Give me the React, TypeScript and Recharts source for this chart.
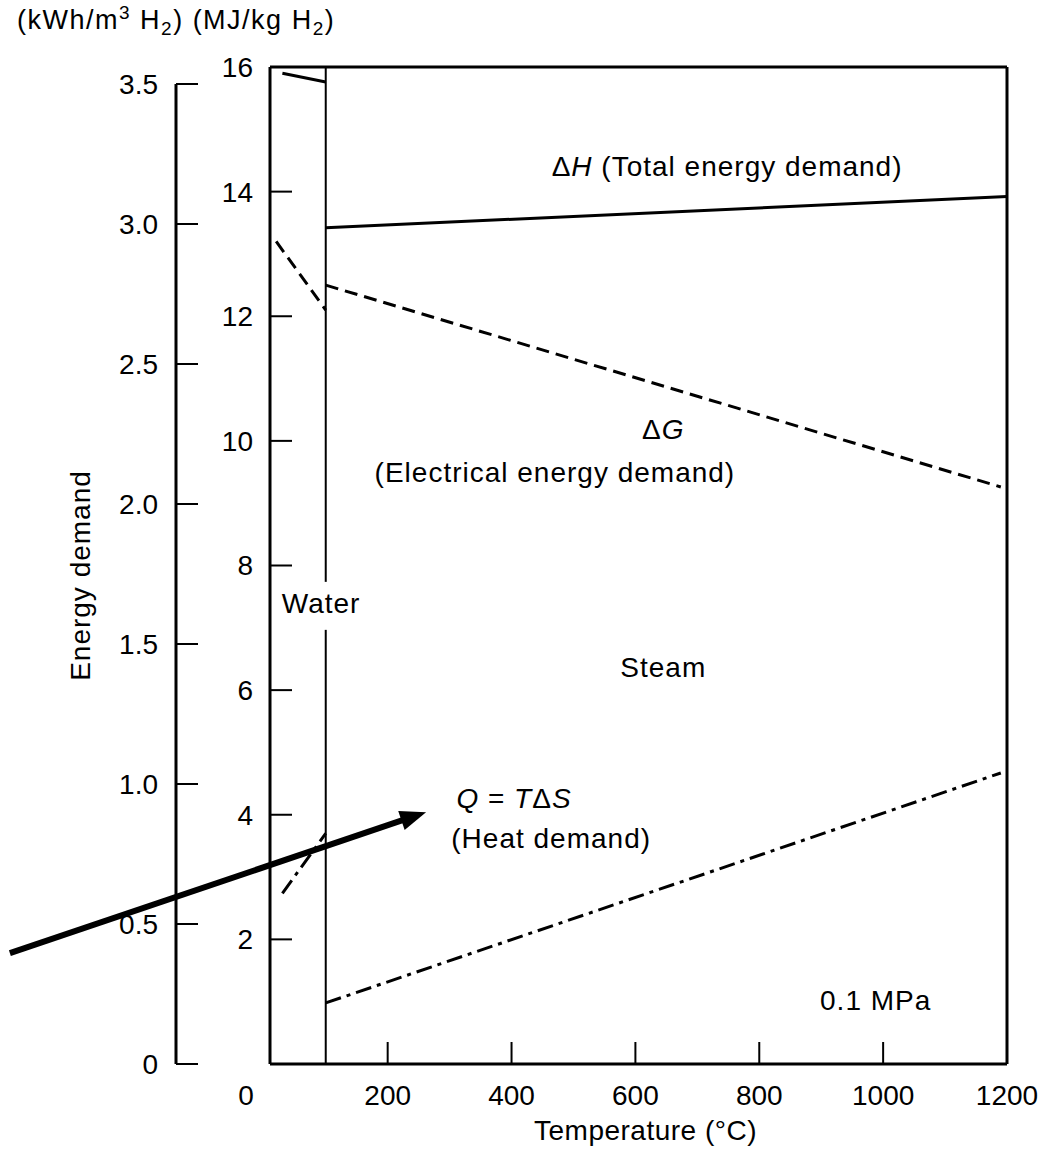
import React from 'react';
import { LineChart, Line, XAxis, YAxis, ReferenceLine, ReferenceDot } from 'recharts';

const W = 1055;
const H = 1157;
const MARGIN = { top: 66, right: 47, bottom: 0, left: 100 };
const X_AXIS_H = 93;
const KWH_W = 76;
const MJ_W = 94;
const PLOT_H = H - MARGIN.top - 1 - MARGIN.bottom - X_AXIS_H;
const FONT = '"Liberation Sans", Arial, Helvetica, sans-serif';
const FS = 28;

// axes
const tempDomain = [10, 1200];
const tempTicks = [10, 200, 400, 600, 800, 1000, 1200];
const tempTicksTop = [200, 400, 600, 800, 1000];
const mjDomain = [0, 16];
const mjTicks = [2, 4, 6, 8, 10, 12, 14, 16];
const mjTicksRight = [2, 4, 6, 8, 10, 12, 14];
const kwhTicks = [0, 0.5, 1.0, 1.5, 2.0, 2.5, 3.0, 3.5];
const kwhMax = 3.5607; // kWh/m3 value matching 16 MJ/kg on this figure
const kwhTop = 3.5;

// series (temperature °C, energy MJ/kg H2)
const waterTempsH = [30, 100];
const dHWater = [15.9, 15.76];
const waterTempsG = [20, 100];
const dGWater = [13.2, 12.1];
const waterTempsQ = [30, 100];
const qWater = [2.74, 3.7];
const steamTempsH = [100, 1200];
const dHSteam = [13.42, 13.92];
const steamTempsG = [100, 1190];
const dGSteam = [12.5, 9.26];
const steamTempsQ = [100, 1190];
const qSteam = [0.98, 4.67];

const phaseBoundary = 100;
const arrowTemps = [-410, 262];
const arrowEnergy = [1.78, 4.04];

const rows = (ts: number[], es: number[]) => ts.map((t, i) => ({ t, e: es[i] }));

const kwhGap = PLOT_H * (1 - kwhTop / kwhMax);

const ArrowShape = (p: any) => {
  const { x1, y1, x2, y2 } = p;
  const ang = Math.atan2(y2 - y1, x2 - x1);
  const hl = 26;
  const hw = 10;
  const bx = x2 - hl * Math.cos(ang);
  const by = y2 - hl * Math.sin(ang);
  const nx = -Math.sin(ang);
  const ny = Math.cos(ang);
  return (
    <g>
      <line x1={x1} y1={y1} x2={bx + 2 * Math.cos(ang)} y2={by + 2 * Math.sin(ang)} stroke="#000" strokeWidth={6} />
      <polygon
        points={`${x2},${y2} ${bx + nx * hw},${by + ny * hw} ${bx - nx * hw},${by - ny * hw}`}
        fill="#000"
      />
    </g>
  );
};

const note = (content: React.ReactNode, anchor: 'start' | 'middle' | 'end' = 'middle') => (p: any) => {
  const vb = p.viewBox || {};
  return (
    <text x={vb.x} y={vb.y} textAnchor={anchor} fontSize={FS} fontFamily={FONT} fill="#000" letterSpacing={1}>
      {content}
    </text>
  );
};

const waterNote = (p: any) => {
  const vb = p.viewBox || {};
  return (
    <g>
      <rect x={vb.x - 2} y={vb.y - 31} width={84} height={48} fill="#fff" />
      <text x={vb.x} y={vb.y} textAnchor="start" fontSize={FS} fontFamily={FONT} fill="#000" letterSpacing={1}>
        Water
      </text>
    </g>
  );
};

const BottomTick = (p: any) => {
  const { x, y, payload } = p;
  const first = payload.value === tempTicks[0];
  return (
    <text x={x + (first ? -24 : 0)} y={y} dy={20} textAnchor="middle" fontSize={FS} fontFamily={FONT} fill="#000">
      {first ? '0' : String(payload.value)}
    </text>
  );
};

const xTitle = (p: any) => {
  const vb = p.viewBox || {};
  return (
    <text x={vb.x + vb.width / 2 + 7} y={vb.y + 76} textAnchor="middle" fontSize={FS} fontFamily={FONT} fill="#000" letterSpacing={0.5}>
      Temperature (°C)
    </text>
  );
};

const yTitle = (p: any) => {
  const vb = p.viewBox || {};
  const cx = vb.x - 20;
  const cy = vb.y + vb.height / 2 + 10;
  return (
    <text
      x={cx}
      y={cy}
      transform={`rotate(-90, ${cx}, ${cy})`}
      textAnchor="middle"
      dominantBaseline="central"
      fontSize={FS}
      fontFamily={FONT}
      fill="#000"
      letterSpacing={1}
    >
      Energy demand
    </text>
  );
};

const axisLine = { stroke: '#000', strokeWidth: 3 };
const tickLine = { stroke: '#000', strokeWidth: 2 };
const tickText = { fontSize: FS, fill: '#000', fontFamily: FONT };
const subStyle = { fontSize: 19, lineHeight: 0 };

export default function App() {
  return (
    <div style={{ position: 'absolute', left: 0, top: 0, width: W, height: H, background: '#fff', fontFamily: FONT }}>
      <div
        style={{
          position: 'absolute',
          left: 17,
          top: 5,
          fontSize: 27,
          lineHeight: '30px',
          color: '#000',
          whiteSpace: 'nowrap',
          letterSpacing: 1.5,
        }}
      >
        (kWh/m<sup style={{ ...subStyle, verticalAlign: 'super' }}>3</sup> H<sub style={subStyle}>2</sub>) (MJ/kg H
        <sub style={subStyle}>2</sub>)
      </div>
      <LineChart width={W} height={H} margin={MARGIN}>
        <XAxis
          xAxisId="b"
          dataKey="t"
          type="number"
          domain={tempDomain}
          ticks={tempTicks}
          interval={0}
          height={X_AXIS_H}
          tickSize={-22}
          tickMargin={43}
          axisLine={axisLine}
          tickLine={tickLine}
          tick={<BottomTick />}
          label={xTitle}
        />
        <XAxis
          xAxisId="top"
          orientation="top"
          dataKey="t"
          type="number"
          domain={tempDomain}
          allowDataOverflow
          ticks={tempTicksTop}
          interval={0}
          height={1}
          tickSize={-22}
          axisLine={axisLine}
          tickLine={tickLine}
          tick={false}
        />
        <YAxis
          yAxisId="kwh"
          type="number"
          domain={[0, kwhMax]}
          allowDataOverflow
          ticks={kwhTicks}
          interval={0}
          width={KWH_W}
          tickSize={-22}
          tickMargin={40}
          axisLine={{ stroke: '#000', strokeWidth: 3, strokeDasharray: `0 ${kwhGap} 3000` }}
          tickLine={tickLine}
          tick={tickText}
          tickFormatter={(v: number) => (v === 0 ? '0' : v.toFixed(1))}
          label={yTitle}
        />
        <YAxis
          yAxisId="energy"
          type="number"
          domain={mjDomain}
          ticks={mjTicks}
          interval={0}
          width={MJ_W}
          tickSize={-22}
          tickMargin={39}
          axisLine={axisLine}
          tickLine={tickLine}
          tick={tickText}
        />
        <YAxis
          yAxisId="right"
          orientation="right"
          type="number"
          domain={mjDomain}
          allowDataOverflow
          ticks={mjTicksRight}
          interval={0}
          width={1}
          tickSize={-22}
          axisLine={axisLine}
          tickLine={tickLine}
          tick={false}
        />

        <ReferenceLine xAxisId="b" yAxisId="energy" x={phaseBoundary} stroke="#000" strokeWidth={2} />

        <Line xAxisId="b" yAxisId="energy" data={rows(waterTempsH, dHWater)} dataKey="e" type="linear" stroke="#000" strokeWidth={3} dot={false} isAnimationActive={false} />
        <Line xAxisId="b" yAxisId="energy" data={rows(steamTempsH, dHSteam)} dataKey="e" type="linear" stroke="#000" strokeWidth={3} dot={false} isAnimationActive={false} />
        <Line xAxisId="b" yAxisId="energy" data={rows(waterTempsG, dGWater)} dataKey="e" type="linear" stroke="#000" strokeWidth={3} strokeDasharray="13 7" dot={false} isAnimationActive={false} />
        <Line xAxisId="b" yAxisId="energy" data={rows(steamTempsG, dGSteam)} dataKey="e" type="linear" stroke="#000" strokeWidth={3} strokeDasharray="13 7" dot={false} isAnimationActive={false} />
        <Line xAxisId="b" yAxisId="energy" data={rows(waterTempsQ, qWater)} dataKey="e" type="linear" stroke="#000" strokeWidth={3} strokeDasharray="16 6 4 6" dot={false} isAnimationActive={false} />
        <Line xAxisId="b" yAxisId="energy" data={rows(steamTempsQ, qSteam)} dataKey="e" type="linear" stroke="#000" strokeWidth={3} strokeDasharray="16 6 4 6" dot={false} isAnimationActive={false} />

        <ReferenceDot xAxisId="b" yAxisId="energy" x={29} y={7.24} r={0} label={waterNote} />
        <ReferenceDot
          xAxisId="b"
          yAxisId="energy"
          x={748}
          y={14.25}
          r={0}
          label={note(
            <>
              Δ<tspan fontStyle="italic">H</tspan> (Total energy demand)
            </>
          )}
        />
        <ReferenceDot
          xAxisId="b"
          yAxisId="energy"
          x={645}
          y={10.03}
          r={0}
          label={note(
            <>
              Δ<tspan fontStyle="italic">G</tspan>
            </>
          )}
        />
        <ReferenceDot xAxisId="b" yAxisId="energy" x={470} y={9.34} r={0} label={note('(Electrical energy demand)')} />
        <ReferenceDot xAxisId="b" yAxisId="energy" x={645} y={6.21} r={0} label={note('Steam')} />
        <ReferenceDot
          xAxisId="b"
          yAxisId="energy"
          x={404}
          y={4.11}
          r={0}
          label={note(
            <>
              <tspan fontStyle="italic">Q</tspan> = <tspan fontStyle="italic">T</tspan>Δ<tspan fontStyle="italic">S</tspan>
            </>
          )}
        />
        <ReferenceDot xAxisId="b" yAxisId="energy" x={464} y={3.47} r={0} label={note('(Heat demand)')} />
        <ReferenceDot xAxisId="b" yAxisId="energy" x={988} y={0.87} r={0} label={note('0.1 MPa')} />

        <ReferenceLine
          xAxisId="b"
          yAxisId="energy"
          ifOverflow="visible"
          segment={[
            { x: arrowTemps[0], y: arrowEnergy[0] },
            { x: arrowTemps[1], y: arrowEnergy[1] },
          ]}
          shape={ArrowShape}
        />
      </LineChart>
    </div>
  );
}
